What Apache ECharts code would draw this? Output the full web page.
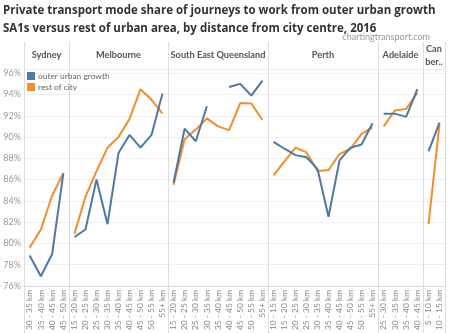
<!DOCTYPE html>
<html>
<head>
<meta charset="utf-8">
<script src="https://cdn.jsdelivr.net/npm/echarts@6/dist/echarts.min.js"></script>
<style>
html,body{margin:0;padding:0;background:#fff;}
#chart{width:449px;height:333px;}
</style>
</head>
<body>
<div id="chart"></div>
<script>
// ---- data ----
const panelNames = ['Sydney', 'Melbourne', 'South East Queensland', 'Perth', 'Adelaide', 'Can\nber..'];
const sydneyCats = ['30 - 35 km', '35 - 40 km', '40 - 45 km', '45 - 50 km'];
const sydneyOuter = [78.85, 76.9, 79.0, 86.6];
const sydneyRest = [79.6, 81.3, 84.5, 86.6];
const melbCats = ['15 - 20 km', '20 - 25 km', '25 - 30 km', '30 - 35 km', '35 - 40 km', '40 - 45 km', '45 - 50 km', '50 - 55 km', '55+ km'];
const melbOuter = [80.6, 81.3, 86.0, 81.8, 88.5, 90.2, 89.0, 90.2, 94.1];
const melbRest = [80.9, 84.4, 86.8, 89.0, 90.0, 91.7, 94.5, 93.5, 92.2];
const seqCats = ['15 - 20 km', '20 - 25 km', '25 - 30 km', '30 - 35 km', '35 - 40 km', '40 - 45 km', '45 - 50 km', '50 - 55 km', '55+ km'];
const seqOuter = [85.7, 90.8, 89.6, 92.9, null, 94.7, 95.0, 93.9, 95.3];
const seqRest = [85.5, 89.8, 90.7, 91.75, 91.0, 90.65, 93.2, 93.15, 91.6];
const perthCats = ['10 - 15 km', '15 - 20 km', '20 - 25 km', '25 - 30 km', '30 - 35 km', '35 - 40 km', '40 - 45 km', '45 - 50 km', '50 - 55 km', '55+ km'];
const perthOuter = [89.55, 88.9, 88.3, 88.1, 87.0, 82.5, 87.8, 89.0, 89.3, 91.3];
const perthRest = [86.4, 87.7, 89.0, 88.55, 86.8, 86.9, 88.4, 88.9, 90.3, 90.9];
const adelCats = ['25 - 30 km', '30 - 35 km', '35 - 40 km', '40 - 45 km'];
const adelOuter = [92.2, 92.2, 91.9, 94.5];
const adelRest = [91.0, 92.5, 92.65, 94.15];
const canCats = ['5 - 10 km', '10 - 15 km'];
const canOuter = [88.65, 91.35];
const canRest = [81.8, 91.2];
const yTicks = [76, 78, 80, 82, 84, 86, 88, 90, 92, 94, 96];

const seriesNames = ['outer urban growth', 'rest of city'];
const colors = ['#4e79a7', '#f28e2b'];

const panelCats = [sydneyCats, melbCats, seqCats, perthCats, adelCats, canCats];
const panelOuter = [sydneyOuter, melbOuter, seqOuter, perthOuter, adelOuter, canOuter];
const panelRest = [sydneyRest, melbRest, seqRest, perthRest, adelRest, canRest];

// ---- layout ----
const FONT = 'Lato';
const bounds = [24, 69, 168, 268, 378, 423, 445];
const plotTop = 69, plotBottom = 288;
const H = 333;

const grids = [], xAxes = [], yAxes = [], series = [], graphics = [];
for (let i = 0; i < panelNames.length; i++) {
  grids.push({left: bounds[i], width: bounds[i+1] - bounds[i], top: plotTop, bottom: H - plotBottom, containLabel: false});
  xAxes.push({
    type: 'category', gridIndex: i, data: panelCats[i], boundaryGap: true,
    axisTick: {show: false},
    axisLine: {show: true, lineStyle: {color: '#d9d9d9', width: 1}},
    axisLabel: {rotate: 90, interval: 0, fontSize: 8.4, color: '#888', margin: 4, fontFamily: FONT}
  });
  yAxes.push({
    type: 'value', gridIndex: i, min: 76, max: 96.4, interval: 2,
    axisLine: {show: false}, axisTick: {show: false},
    splitLine: {show: true, lineStyle: {color: '#efefef', width: 1}},
    axisLabel: {
      show: i === 0, fontSize: 9, color: '#999', margin: 3, fontFamily: FONT,
      formatter: v => (yTicks.indexOf(v) >= 0 ? v + '%' : '')
    }
  });
  series.push({
    name: seriesNames[0], type: 'line', xAxisIndex: i, yAxisIndex: i, data: panelOuter[i],
    symbol: 'none', lineStyle: {width: 2, color: colors[0]}, itemStyle: {color: colors[0]}, connectNulls: false, z: 3
  });
  series.push({
    name: seriesNames[1], type: 'line', xAxisIndex: i, yAxisIndex: i, data: panelRest[i],
    symbol: 'none', lineStyle: {width: 2, color: colors[1]}, itemStyle: {color: colors[1]}, z: 2
  });
  const cx = (bounds[i] + bounds[i+1]) / 2;
  graphics.push({
    type: 'text', x: cx, y: i === 5 ? 55.5 : 55,
    style: {text: panelNames[i], fill: '#555', font: 'bold 9.2px ' + FONT, textAlign: 'center', textVerticalAlign: 'middle', lineHeight: 13}
  });
}
// separators
for (let i = 0; i < bounds.length; i++) {
  graphics.push({type: 'line', shape: {x1: bounds[i] + 0.5, y1: 42, x2: bounds[i] + 0.5, y2: H}, style: {stroke: '#dedede', lineWidth: 1}, z: 1});
}
graphics.push({type: 'line', shape: {x1: bounds[0], y1: plotTop + 0.5, x2: bounds[bounds.length-1], y2: plotTop + 0.5}, style: {stroke: '#ececec', lineWidth: 1}, z: 1});
// title
graphics.push({
  type: 'text', x: 3, y: 1,
  style: {text: 'Private transport mode share of journeys to work from outer urban growth\nSA1s versus rest of urban area, by distance from city centre, 2016', fill: '#333', font: 'bold 11.5px "Open Sans"', lineHeight: 18.5}
});
graphics.push({
  type: 'text', x: 430, y: 37,
  style: {text: 'chartingtransport.com', fill: '#999', font: '9px ' + FONT, textAlign: 'right', textVerticalAlign: 'middle'}
});

const chart = echarts.init(document.getElementById('chart'), null, {renderer: 'canvas'});
chart.setOption({
  animation: false,
  backgroundColor: '#fff',
  color: colors,
  grid: grids,
  xAxis: xAxes,
  yAxis: yAxes,
  series: series,
  legend: {
    data: seriesNames, orient: 'vertical', left: 27, top: 72, icon: 'rect',
    itemWidth: 8, itemHeight: 8, itemGap: 3,
    textStyle: {fontSize: 8.4, color: '#666', fontFamily: FONT, padding: [0, 0, 0, -2]},
    padding: 0
  },
  graphic: graphics
});
</script>
</body>
</html>
